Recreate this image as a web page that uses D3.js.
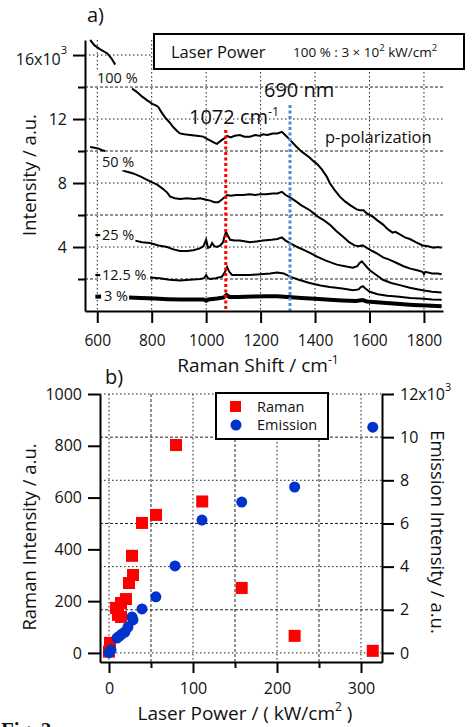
<!DOCTYPE html>
<html>
<head>
<meta charset="utf-8">
<script src="https://cdn.jsdelivr.net/npm/d3@7"></script>
<style>
  body { margin: 0; background: #fff; }
  text { font-family: "Open Sans", sans-serif; fill: #111; }
</style>
</head>
<body>
<div class="container"></div>
<script>
// ---- panel a: spectra (Raman shift cm-1, intensity x10^3) ----
// each curve: short piece left of its label, then the main trace
const frag100 = [[574,16.94],[590,16.6],[611,16.35],[637,16.1],[652,15.8],[666,15.4]];
const main100 = [[728,13.9],[745,13.7],[765,13.4],[785,13.15],[802,12.95],[815,12.85],[824,12.75],[835,12.45],[849,12.1],[865,11.8],[879,11.5],[893,11.25],[904,11.1],[920,11.05],[941,11.0],[965,10.95],[989,10.9],[1005,10.75],[1021,10.6],[1032,10.5],[1040,10.45],[1050,10.6],[1058,10.7],[1068,10.8],[1077,10.95],[1090,10.85],[1105,10.95],[1124,11.0],[1140,10.9],[1161,10.9],[1180,11.0],[1195,10.95],[1209,11.05],[1225,11.0],[1245,11.1],[1262,11.1],[1278,11.2],[1293,10.95],[1308,10.7],[1330,10.3],[1345,10.05],[1356,9.9],[1380,9.6],[1395,9.35],[1407,9.2],[1425,8.85],[1443,8.4],[1454,8.0],[1470,7.6],[1491,7.15],[1510,6.85],[1530,6.6],[1553,6.35],[1565,6.3],[1578,6.3],[1590,6.1],[1612,5.9],[1630,5.65],[1650,5.4],[1668,5.1],[1685,4.9],[1695,4.95],[1710,4.8],[1730,4.6],[1748,4.5],[1770,4.3],[1795,4.1],[1815,4.05],[1835,3.95],[1850,4.0],[1865,3.95]];

const frag50 = [[574,10.25],[590,10.2],[605,10.15],[618,10.05],[629,10.0]];
const main50 = [[692,8.8],[710,8.7],[732,8.6],[760,8.4],[783,8.2],[800,8.05],[820,7.9],[840,7.65],[857,7.4],[868,7.15],[885,7.05],[904,7.0],[930,7.05],[955,7.0],[978,7.05],[1000,6.95],[1015,6.9],[1030,6.8],[1045,6.8],[1060,7.0],[1077,7.25],[1090,7.2],[1110,7.25],[1135,7.25],[1160,7.3],[1180,7.25],[1198,7.3],[1220,7.3],[1245,7.35],[1262,7.35],[1278,7.45],[1292,7.25],[1308,7.1],[1330,6.85],[1350,6.6],[1381,6.3],[1410,5.9],[1430,5.7],[1454,5.4],[1478,5.0],[1502,4.65],[1525,4.3],[1545,4.1],[1560,4.05],[1575,4.1],[1590,3.95],[1610,3.75],[1627,3.6],[1650,3.35],[1675,3.2],[1700,3.0],[1725,2.8],[1750,2.65],[1775,2.55],[1795,2.45],[1800,2.3],[1805,2.45],[1830,2.35],[1850,2.35],[1865,2.3]];

const frag25 = [[593,4.75],[602,4.75],[611,4.73]];
const main25 = [[739,4.4],[765,4.3],[794,4.25],[825,4.1],[857,4.0],[880,3.85],[904,3.75],[930,3.75],[952,3.8],[975,3.9],[990,4.05],[1000,4.45],[1007,3.95],[1015,4.0],[1022,4.25],[1030,4.05],[1040,4.0],[1052,4.1],[1062,4.3],[1068,4.7],[1073,4.95],[1080,4.7],[1088,4.45],[1105,4.4],[1124,4.4],[1145,4.35],[1161,4.3],[1185,4.35],[1209,4.4],[1240,4.45],[1262,4.5],[1278,4.6],[1292,4.4],[1308,4.25],[1335,4.0],[1360,3.8],[1385,3.6],[1407,3.4],[1440,3.15],[1480,2.9],[1510,2.8],[1539,2.7],[1555,2.8],[1564,3.0],[1572,3.1],[1580,2.95],[1590,2.75],[1601,2.55],[1625,2.25],[1649,1.95],[1680,1.75],[1715,1.6],[1748,1.45],[1780,1.35],[1800,1.28],[1830,1.2],[1865,1.15]];

const frag125 = [[593,2.25],[602,2.25],[611,2.23]];
const main125 = [[794,2.1],[830,2.05],[865,1.95],[904,1.9],[940,1.95],[978,2.0],[992,2.05],[1000,2.25],[1007,2.05],[1014,2.0],[1035,2.05],[1058,2.15],[1068,2.4],[1077,2.75],[1085,2.45],[1095,2.25],[1120,2.25],[1161,2.25],[1200,2.3],[1235,2.35],[1260,2.4],[1285,2.35],[1308,2.15],[1340,1.95],[1380,1.75],[1420,1.6],[1454,1.5],[1500,1.4],[1540,1.3],[1560,1.35],[1568,1.5],[1576,1.55],[1585,1.4],[1601,1.2],[1630,1.05],[1665,0.95],[1700,0.9],[1750,0.82],[1800,0.76],[1830,0.72],[1865,0.7]];

const frag3 = [[593,0.9],[602,0.9],[614,0.9]];
const main3 = [[714,0.85],[760,0.82],[810,0.78],[860,0.74],[904,0.72],[950,0.72],[990,0.72],[1000,0.64],[1008,0.72],[1040,0.78],[1065,0.85],[1075,1.0],[1085,0.88],[1120,0.88],[1170,0.9],[1220,0.92],[1260,0.92],[1300,0.88],[1350,0.82],[1400,0.76],[1454,0.7],[1500,0.66],[1550,0.62],[1575,0.68],[1590,0.6],[1650,0.52],[1700,0.45],[1760,0.38],[1810,0.34],[1865,0.3]];

const curveLabels = ["100 %", "50 %", "25 %", "12.5 %", "3 %"];
const curveLabelY = [14.56, 9.3, 4.75, 2.25, 0.94];   // intensity where each label sits

const peakRaman = 1072;   // red marker
const peak690 = 1308;     // 690 nm, in cm-1
const yTicksA = [4, 8, 12, 16];
const yMinorA = [2, 6, 10, 14];
const xTicksA = [600, 800, 1000, 1200, 1400, 1600, 1800];

// ---- panel b: power dependence ----
const ramanPower = [0, 1.2, 8.3, 10.7, 14.3, 14.3, 20.2, 23.8, 28.6, 27.4, 39.3, 56, 79.8, 111, 158, 221, 314];
const ramanInt   = [5, 39, 174, 147, 193, 139, 208, 270, 301, 375, 502, 533, 803, 585, 251, 66, 8];
const emisPower  = [0, 2.4, 9.5, 12.5, 15.5, 19, 22.6, 27.4, 28.6, 39.3, 55.8, 78.6, 110.7, 158, 221, 314];
const emisInt    = [0.02, 0.14, 0.69, 0.78, 0.88, 0.97, 1.2, 1.67, 1.53, 2.04, 2.6, 4.03, 6.16, 6.99, 7.69, 10.46]; // x10^3
const xTicksB = [0, 100, 200, 300];
const xMinorB = [50, 150, 250];
const yTicksBL = [0, 200, 400, 600, 800, 1000];
const yTicksBR = [0, 2, 4, 6, 8, 10, 12];

const WIDTH = 473;
const HEIGHT = 727;

var svg = d3.select(".container").append("svg")
  .attr("width", WIDTH)
  .attr("height", HEIGHT);

var fmt = d3.format("d");

// ================= panel a =================
var xA = d3.scaleLinear().domain([555, 1870]).range([85, 443]);
var yA = d3.scaleLinear().domain([0, 16.94]).range([311, 40]);

var ga = svg.append("g");

// grid
ga.selectAll(".vgridA").data(xTicksA).enter().append("line")
  .attr("x1", d => xA(d)).attr("x2", d => xA(d))
  .attr("y1", yA.range()[1]).attr("y2", yA.range()[0])
  .attr("stroke", "#222").attr("stroke-width", 1).attr("stroke-dasharray", "1.5,2.5");
ga.selectAll(".hgridA").data(yTicksA).enter().append("line")
  .attr("x1", xA.range()[0]).attr("x2", xA.range()[1])
  .attr("y1", d => yA(d)).attr("y2", d => yA(d))
  .attr("stroke", "#222").attr("stroke-width", 1).attr("stroke-dasharray", "1.5,2.5");
ga.selectAll(".hgridA2").data(yMinorA).enter().append("line")
  .attr("x1", xA.range()[0]).attr("x2", xA.range()[1])
  .attr("y1", d => yA(d)).attr("y2", d => yA(d))
  .attr("stroke", "#222").attr("stroke-width", 1).attr("stroke-dasharray", "3,2");

var lineA = d3.line().x(d => xA(d[0])).y(d => yA(d[1]));

var curves = [frag100, main100, frag50, main50, frag25, main25, frag125, main125];
curves.forEach(function(c){
  ga.append("path").attr("d", lineA(c))
    .attr("fill", "none").attr("stroke", "#000").attr("stroke-width", 2);
});
[frag3, main3].forEach(function(c){
  ga.append("path").attr("d", lineA(c))
    .attr("fill", "none").attr("stroke", "#000").attr("stroke-width", 4);
});

// curve labels with opaque background
curveLabels.forEach(function(t, i){
  var g = ga.append("g");
  var tx = g.append("text")
    .attr("x", i === 0 ? 97 : (i === 4 ? 104 : 102)).attr("y", yA(curveLabelY[i]) + 5)
    .attr("font-size", 14.5).text(t);
  var bb = tx.node().getBBox();
  g.insert("rect", "text")
    .attr("x", bb.x - 1).attr("y", bb.y + 2)
    .attr("width", bb.width + 2).attr("height", bb.height - 3)
    .attr("fill", "#fff");
});

// marker lines
ga.append("line")
  .attr("x1", xA(peakRaman)).attr("x2", xA(peakRaman))
  .attr("y1", 130).attr("y2", yA(0))
  .attr("stroke", "#ff0000").attr("stroke-width", 3).attr("stroke-dasharray", "3,2.5");
ga.append("line")
  .attr("x1", xA(peak690)).attr("x2", xA(peak690))
  .attr("y1", 105).attr("y2", yA(0))
  .attr("stroke", "#4a8ad8").attr("stroke-width", 3).attr("stroke-dasharray", "3,2.5");

var t1 = ga.append("text").attr("x", 189).attr("y", 124).attr("font-size", 20);
t1.append("tspan").text(peakRaman + " cm");
t1.append("tspan").attr("dy", -8).attr("font-size", 12.5).text("-1");
ga.append("text").attr("x", 264).attr("y", 97).attr("font-size", 20).text("690 nm");
ga.append("text").attr("x", 325).attr("y", 143).attr("font-size", 16.5).text("p-polarization");

// legend box
ga.append("rect").attr("x", 154).attr("y", 34).attr("width", 310).attr("height", 35)
  .attr("fill", "#fff").attr("stroke", "#000").attr("stroke-width", 2);
ga.append("text").attr("x", 171).attr("y", 58).attr("font-size", 16.5).text("Laser Power");
var t2 = ga.append("text").attr("x", 293).attr("y", 57).attr("font-size", 13.5);
t2.append("tspan").text("100 % : 3 \u00d7 10");
t2.append("tspan").attr("dy", -6).attr("font-size", 9.5).text("2");
t2.append("tspan").attr("dy", 6).text(" kW/cm");
t2.append("tspan").attr("dy", -6).attr("font-size", 9.5).text("2");

// axes
var yAxisA = d3.axisLeft(yA).tickValues(yTicksA).tickSize(12).tickSizeOuter(0)
  .tickFormat(d => d === 16 ? "16x10" : fmt(d));
var gya = ga.append("g").attr("transform", "translate(85,0)").call(yAxisA);
gya.selectAll(".tick text").attr("font-size", 16).attr("dx", -3);
gya.selectAll(".tick text").filter(d => d === 16).attr("dy", "0.6em")
  .append("tspan").attr("dy", -11).attr("font-size", 11).text("3");
ga.append("g").attr("transform", "translate(85,0)")
  .call(d3.axisLeft(yA).tickValues(yMinorA).tickSize(7).tickSizeOuter(0).tickFormat(""))
  .select(".domain").remove();

var xAxisA = d3.axisBottom(xA).tickValues(xTicksA).tickSize(12).tickSizeOuter(0).tickFormat(fmt);
var gxa = ga.append("g").attr("transform", "translate(0,311)").call(xAxisA);
gxa.selectAll(".tick text").attr("font-size", 15.5).attr("dy", "1.3em");

ga.selectAll(".domain, .tick line").attr("stroke", "#000").attr("stroke-width", 2);

var tx = ga.append("text").attr("x", 258).attr("y", 372).attr("text-anchor", "middle").attr("font-size", 19);
tx.append("tspan").text("Raman Shift / cm");
tx.append("tspan").attr("dy", -8).attr("font-size", 12).text("-1");
ga.append("text").attr("transform", "translate(36,175) rotate(-90)")
  .attr("text-anchor", "middle").attr("font-size", 18.5).text("Intensity / a.u.");
ga.append("text").attr("x", 87).attr("y", 22).attr("font-size", 20).text("a)");

// ================= panel b =================
var xB = d3.scaleLinear().domain([-10.7, 325]).range([100, 382]);
var yBL = d3.scaleLinear().domain([-35, 1000]).range([662, 394]);
var yBR = d3.scaleLinear().domain([-0.42, 12]).range([662, 394]);

var gb = svg.append("g");

gb.selectAll(".vgridB").data(xTicksB.concat(xMinorB)).enter().append("line")
  .attr("x1", d => xB(d)).attr("x2", d => xB(d))
  .attr("y1", 394).attr("y2", 662)
  .attr("stroke", "#222").attr("stroke-width", 1)
  .attr("stroke-dasharray", d => xMinorB.includes(d) ? "3,2" : "1.5,2.5");
gb.selectAll(".hgridB").data(yTicksBR).enter().append("line")
  .attr("x1", 100).attr("x2", 382)
  .attr("y1", d => yBR(d)).attr("y2", d => yBR(d))
  .attr("stroke", "#222").attr("stroke-width", 1)
  .attr("stroke-dasharray", d => d % 4 === 2 ? "3,2" : "1.5,2.5");

gb.selectAll(".raman").data(ramanPower).enter().append("rect")
  .attr("x", (d, i) => xB(d) - 6).attr("y", (d, i) => yBL(ramanInt[i]) - 6)
  .attr("width", 12).attr("height", 12).attr("fill", "#ff0000");
gb.selectAll(".emis").data(emisPower).enter().append("circle")
  .attr("cx", (d, i) => xB(d)).attr("cy", (d, i) => yBR(emisInt[i]))
  .attr("r", 5.5).attr("fill", "#0033cc");

// legend
gb.append("rect").attr("x", 216).attr("y", 393).attr("width", 112).attr("height", 46)
  .attr("fill", "#fff").attr("stroke", "#000").attr("stroke-width", 2);
gb.append("rect").attr("x", 230).attr("y", 401).attr("width", 11).attr("height", 11).attr("fill", "#ff0000");
gb.append("circle").attr("cx", 236).attr("cy", 425).attr("r", 5.5).attr("fill", "#0033cc");
gb.append("text").attr("x", 257).attr("y", 412).attr("font-size", 14.5).text("Raman");
gb.append("text").attr("x", 257).attr("y", 430).attr("font-size", 14.5).text("Emission");

// axes
var gyl = gb.append("g").attr("transform", "translate(100,0)")
  .call(d3.axisLeft(yBL).tickValues(yTicksBL).tickSize(12).tickSizeOuter(0).tickFormat(fmt));
gyl.selectAll(".tick text").attr("font-size", 16).attr("dx", -3);
var gyr = gb.append("g").attr("transform", "translate(382,0)")
  .call(d3.axisRight(yBR).tickValues(yTicksBR).tickSize(12).tickSizeOuter(0)
    .tickFormat(d => d === 12 ? "12x10" : fmt(d)));
gyr.selectAll(".tick text").attr("font-size", 16).attr("dx", 3);
gyr.selectAll(".tick text").filter(d => d === 12)
  .append("tspan").attr("dy", -9).attr("font-size", 11).text("3");
var gxb = gb.append("g").attr("transform", "translate(0,662)")
  .call(d3.axisBottom(xB).tickValues(xTicksB).tickSize(11).tickSizeOuter(0).tickFormat(fmt));
gxb.selectAll(".tick text").attr("font-size", 16).attr("dy", "1.15em");
gb.append("g").attr("transform", "translate(0,662)")
  .call(d3.axisBottom(xB).tickValues(xMinorB).tickSize(6).tickFormat(""))
  .select(".domain").remove();
gb.selectAll(".domain, .tick line").attr("stroke", "#000").attr("stroke-width", 2);

var txb = gb.append("text").attr("x", 245).attr("y", 720).attr("text-anchor", "middle").attr("font-size", 19);
txb.append("tspan").text("Laser Power / ( kW/cm");
txb.append("tspan").attr("dy", -9).attr("font-size", 12).text("2");
txb.append("tspan").attr("dy", 9).text(" )");
gb.append("text").attr("transform", "translate(36,537) rotate(-90)")
  .attr("text-anchor", "middle").attr("font-size", 18.5).text("Raman Intensity / a.u.");
gb.append("text").attr("transform", "translate(431,532) rotate(90)")
  .attr("text-anchor", "middle").attr("font-size", 18.5).text("Emission Intensity / a.u.");
gb.append("text").attr("x", 105).attr("y", 384).attr("font-size", 20).text("b)");

svg.append("text").attr("x", 1).attr("y", 737).attr("font-size", 21)
  .attr("font-weight", "bold").style("font-family", "'Liberation Serif', serif").text("Fig. 2");
</script>
</body>
</html>
